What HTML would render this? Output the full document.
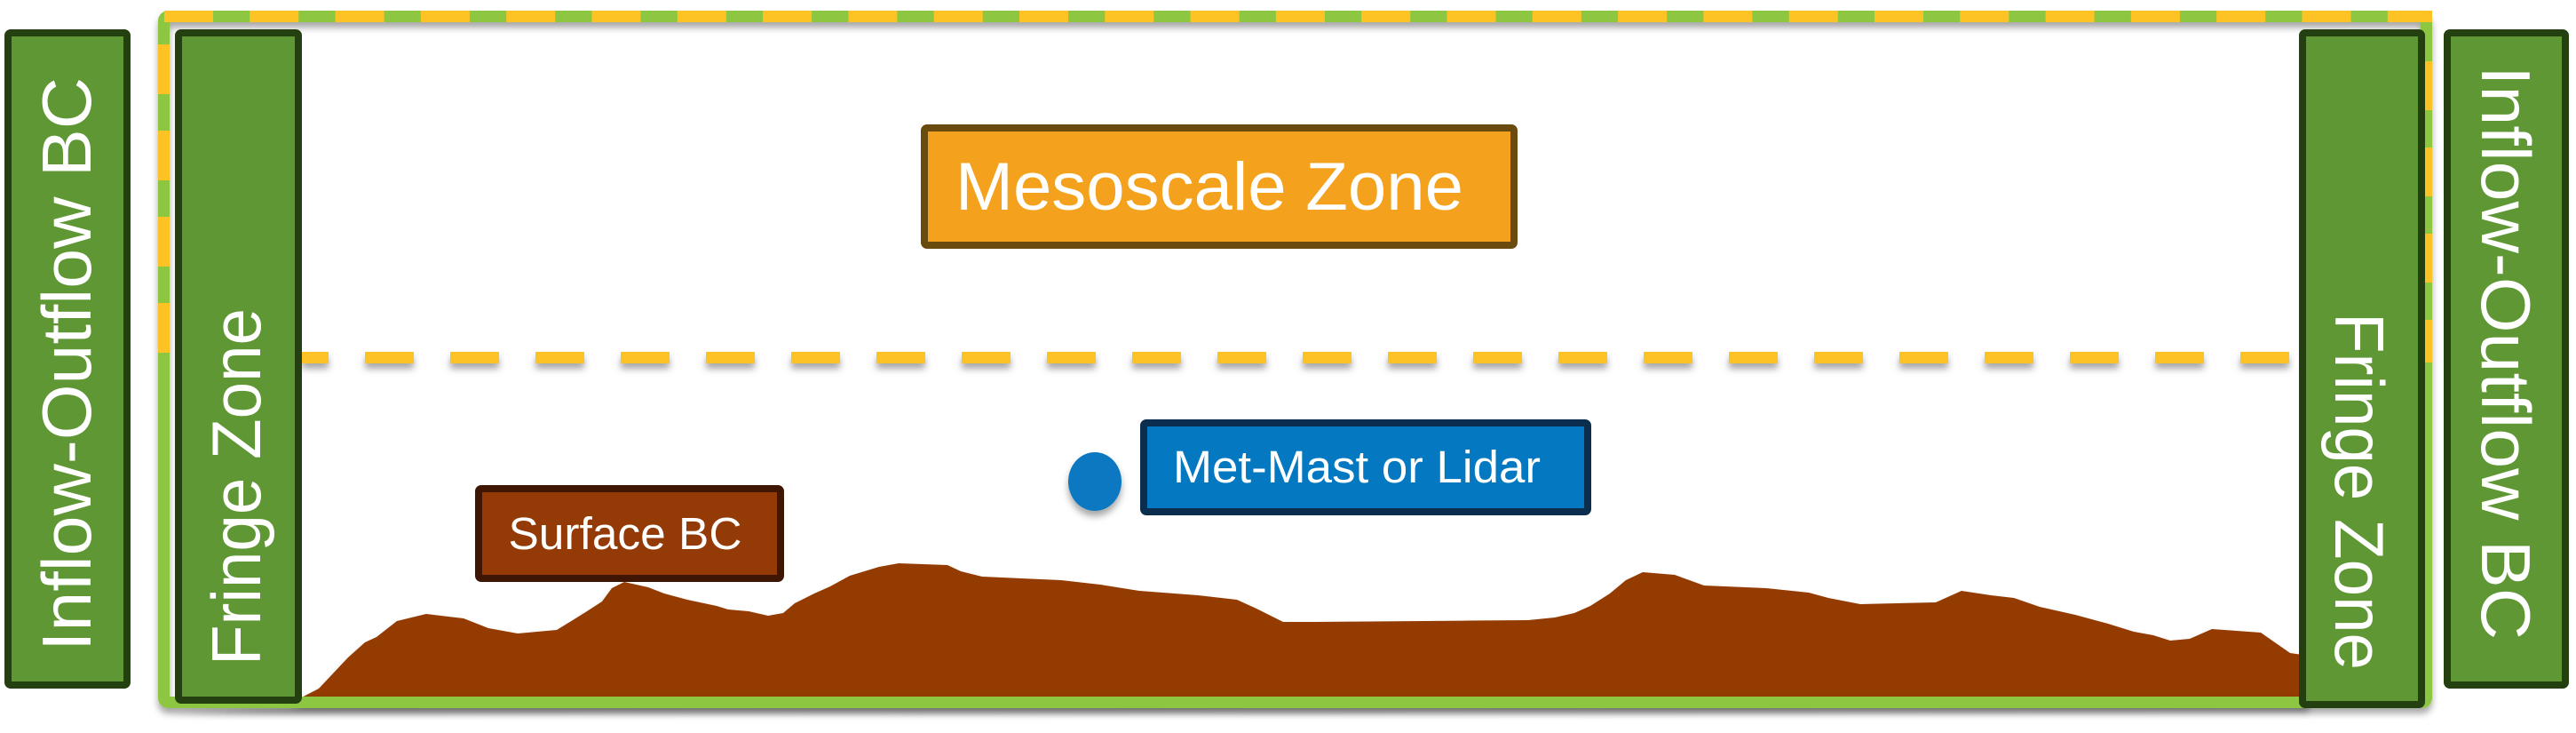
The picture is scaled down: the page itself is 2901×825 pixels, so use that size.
<!DOCTYPE html>
<html><head><meta charset="utf-8"><style>
html,body{margin:0;padding:0;background:#fff;}
svg{display:block;}
text{font-family:"Liberation Sans",sans-serif;fill:#fff;}
</style></head><body>
<svg width="2901" height="825" viewBox="0 0 2901 825" xmlns="http://www.w3.org/2000/svg">
<defs>
<filter id="sh" filterUnits="userSpaceOnUse" x="0" y="0" width="2901" height="825">
<feDropShadow dx="0" dy="6" stdDeviation="4" flood-color="#000" flood-opacity="0.35"/>
</filter>
</defs>

<!-- terrain -->
<path filter="url(#sh)" fill="#933a06" d="M190,797 L330,790 L359,775 L392,740 L411,723 L424,717 L447,699 L480,691 L522,696 L550,707 L583,713 L627,709 L645,698 L661,688 L678,677 L689,662 L703,655 L730,661 L748,668 L774,675 L807,682 L820,686 L843,688 L865,693 L882,690 L895,679 L917,668 L935,660 L957,648 L990,638 L1012,634 L1067,636 L1082,643 L1106,649 L1195,653 L1239,658 L1283,665 L1349,670 L1393,675 L1415,685 L1445,700 L1480,700 L1721,698 L1751,695 L1773,690 L1791,682 L1813,668 L1831,653 L1850,644 L1886,647 L1919,659 L1989,662 L2037,667 L2059,673 L2095,680 L2180,678 L2209,665 L2242,670 L2268,673 L2297,683 L2337,692 L2374,702 L2403,711 L2425,715 L2444,721 L2466,719 L2491,708 L2546,712 L2579,735 L2600,738 L2600,795 L190,797 Z"/>

<!-- green frame -->
<rect x="184.5" y="18.5" width="2548" height="772" rx="5" fill="none" stroke="#8dc63f" stroke-width="13" filter="url(#sh)"/>

<!-- yellow dashed mesoscale zone -->
<g stroke="#fdc325" stroke-width="13" fill="none">
<line x1="185" y1="18.5" x2="2739" y2="18.5" stroke-dasharray="55 41.3"/>
<line x1="184.5" y1="50" x2="184.5" y2="400" stroke-dasharray="56 41"/>
<line x1="2732.5" y1="69" x2="2732.5" y2="408" stroke-dasharray="55 42"/>
<line x1="340" y1="402.5" x2="2590" y2="402.5" stroke-dasharray="55 41" stroke-dashoffset="25" filter="url(#sh)"/>
</g>

<!-- left boxes -->
<rect x="9" y="37" width="134" height="734" rx="3" fill="#5f9734" stroke="#243f10" stroke-width="8"/>
<rect x="201" y="37" width="135" height="751" rx="3" fill="#5f9734" stroke="#243f10" stroke-width="8"/>
<!-- right boxes -->
<rect x="2593" y="37" width="134" height="756" rx="3" fill="#5f9734" stroke="#243f10" stroke-width="8"/>
<rect x="2756" y="37" width="133" height="734" rx="3" fill="#5f9734" stroke="#243f10" stroke-width="8"/>

<text transform="translate(74,410) rotate(-90)" x="0" y="28" font-size="78" text-anchor="middle" textLength="646" lengthAdjust="spacingAndGlyphs">Inflow-Outflow BC</text>
<text transform="translate(265,548) rotate(-90)" x="0" y="28" font-size="78" text-anchor="middle" textLength="402" lengthAdjust="spacingAndGlyphs">Fringe Zone</text>
<text transform="translate(2658,553) rotate(90)" x="0" y="28" font-size="78" text-anchor="middle" textLength="402" lengthAdjust="spacingAndGlyphs">Fringe Zone</text>
<text transform="translate(2823,397) rotate(90)" x="0" y="28" font-size="78" text-anchor="middle" textLength="646" lengthAdjust="spacingAndGlyphs">Inflow-Outflow BC</text>

<!-- Mesoscale box -->
<rect x="1041" y="144" width="664" height="132" rx="3" fill="#f4a21d" stroke="#6b4a10" stroke-width="8"/>
<text x="1362" y="236" font-size="76" text-anchor="middle" textLength="572" lengthAdjust="spacingAndGlyphs">Mesoscale Zone</text>

<!-- Surface BC -->
<rect x="539" y="550" width="340" height="101" rx="3" fill="#933a06" stroke="#3e1603" stroke-width="8"/>
<text x="704" y="618" font-size="51" text-anchor="middle" textLength="263" lengthAdjust="spacingAndGlyphs">Surface BC</text>

<!-- Met mast -->
<ellipse cx="1233" cy="542" rx="30" ry="33" fill="#0a78c2" filter="url(#sh)"/>
<rect x="1288" y="476" width="500" height="100" rx="3" fill="#0478c0" stroke="#0b2e4e" stroke-width="8"/>
<text x="1528" y="543" font-size="51" text-anchor="middle" textLength="414" lengthAdjust="spacingAndGlyphs">Met-Mast or Lidar</text>
</svg>
</body></html>
